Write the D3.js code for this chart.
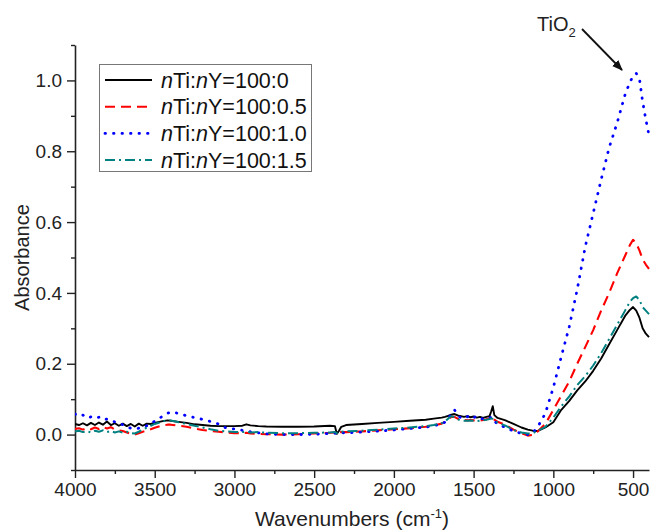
<!DOCTYPE html>
<html>
<head>
<meta charset="utf-8">
<script src="https://cdnjs.cloudflare.com/ajax/libs/d3/7.8.5/d3.min.js"></script>
<style>
  html, body { margin: 0; padding: 0; background: #fff; }
  svg { display: block; font-family: "Liberation Sans", Arial, sans-serif; }
</style>
</head>
<body>
<svg id="chart" width="650" height="530"></svg>
<script>
// ---- data ----
const wavenumbers = [4000,3975,3950,3925,3900,3875,3850,3825,3800,3775,3750,3725,3700,3675,3650,3625,3600,3575,3550,3525,3500,3450,3420,3400,3350,3300,3250,3200,3150,3100,3050,3000,2950,2925,2900,2850,2800,2700,2600,2500,2400,2370,2358,2345,2330,2300,2200,2100,2000,1900,1800,1750,1700,1680,1660,1640,1620,1600,1580,1560,1540,1520,1500,1480,1460,1440,1420,1400,1390,1380,1370,1350,1300,1250,1200,1160,1130,1100,1050,1000,950,900,850,800,750,700,650,600,550,520,500,480,460,440,420,400];

const absY0 = [0.030,0.027,0.032,0.026,0.033,0.027,0.034,0.028,0.037,0.027,0.032,0.025,0.031,0.024,0.030,0.023,0.031,0.025,0.031,0.030,0.033,0.038,0.040,0.039,0.036,0.033,0.029,0.027,0.025,0.024,0.024,0.024,0.025,0.029,0.026,0.024,0.023,0.022,0.022,0.023,0.025,0.024,0.002,0.010,0.022,0.027,0.030,0.033,0.036,0.039,0.042,0.045,0.048,0.050,0.053,0.056,0.058,0.054,0.052,0.050,0.052,0.049,0.051,0.048,0.050,0.047,0.050,0.052,0.065,0.080,0.055,0.047,0.040,0.030,0.020,0.014,0.011,0.010,0.020,0.035,0.070,0.095,0.125,0.150,0.180,0.215,0.255,0.295,0.335,0.352,0.360,0.350,0.330,0.300,0.285,0.275];

const absY05 = [0.016,0.018,0.014,0.019,0.015,0.020,0.016,0.022,0.017,0.021,0.014,0.012,0.010,0.006,0.002,0.000,0.004,0.008,0.011,0.015,0.019,0.026,0.028,0.028,0.025,0.022,0.017,0.013,0.010,0.008,0.006,0.004,0.004,0.005,0.003,0.002,0.001,0.000,0.001,0.003,0.005,0.006,0.003,0.006,0.007,0.007,0.009,0.012,0.015,0.018,0.022,0.026,0.031,0.036,0.043,0.050,0.050,0.045,0.042,0.041,0.040,0.041,0.040,0.039,0.040,0.041,0.043,0.046,0.052,0.048,0.042,0.036,0.028,0.014,0.004,-0.003,-0.001,0.008,0.030,0.070,0.110,0.150,0.200,0.247,0.295,0.350,0.400,0.455,0.505,0.535,0.550,0.540,0.520,0.495,0.480,0.468];

const absY10 = [0.058,0.052,0.055,0.047,0.050,0.046,0.049,0.042,0.044,0.038,0.036,0.031,0.028,0.022,0.018,0.016,0.018,0.020,0.025,0.030,0.038,0.052,0.060,0.064,0.060,0.053,0.048,0.043,0.037,0.030,0.018,0.016,0.012,0.010,0.008,0.005,0.002,0.000,0.000,0.001,0.003,0.004,0.002,0.004,0.005,0.005,0.007,0.010,0.013,0.017,0.021,0.025,0.030,0.035,0.045,0.058,0.070,0.055,0.047,0.052,0.050,0.055,0.048,0.052,0.046,0.044,0.043,0.046,0.050,0.045,0.038,0.030,0.020,0.010,0.003,0.000,0.005,0.020,0.060,0.133,0.220,0.305,0.410,0.530,0.625,0.720,0.810,0.880,0.960,0.995,1.012,1.020,1.005,0.940,0.890,0.845];

const absY15 = [0.009,0.011,0.007,0.010,0.006,0.011,0.008,0.012,0.007,0.010,0.006,0.009,0.005,0.008,0.004,0.003,0.008,0.014,0.020,0.025,0.030,0.037,0.040,0.040,0.035,0.030,0.025,0.020,0.015,0.011,0.009,0.007,0.007,0.008,0.006,0.007,0.005,0.004,0.004,0.005,0.006,0.007,0.004,0.007,0.008,0.009,0.011,0.014,0.017,0.020,0.024,0.027,0.032,0.037,0.045,0.052,0.049,0.043,0.040,0.039,0.039,0.040,0.039,0.038,0.039,0.040,0.042,0.044,0.046,0.044,0.040,0.034,0.025,0.013,0.006,0.003,0.004,0.010,0.022,0.048,0.080,0.108,0.140,0.165,0.195,0.230,0.270,0.310,0.350,0.375,0.385,0.390,0.380,0.360,0.350,0.340];

const seriesLabels = ["100:0", "100:0.5", "100:1.0", "100:1.5"];
const seriesValues = [absY0, absY05, absY10, absY15];
const seriesColors = ["#000000", "#ff0000", "#0000ff", "#008080"];
const seriesDash = [null, "10,6", "0.5,8", "10,4,2,4"];
const seriesWidth = [1.9, 2.1, 2.8, 2];

const xTicks = [4000, 3500, 3000, 2500, 2000, 1500, 1000, 500];
const yTicks = [0.0, 0.2, 0.4, 0.6, 0.8, 1.0];

// ---- layout ----
const svg = d3.select("#chart");
const x = d3.scaleLinear().domain([4000, 400]).range([75, 649]);
const y = d3.scaleLinear().domain([-0.1, 1.1]).range([470, 45]);

// axes
const xMinor = d3.range(3750, 400, -250).filter(v => v % 500 !== 0);
const yMinor = [-0.1, 0.1, 0.3, 0.5, 0.7, 0.9, 1.1];

const axisColor = "#222";
const gx = svg.append("g").attr("transform", `translate(0,${y(-0.1)})`);
gx.call(d3.axisBottom(x).tickValues(xMinor).tickSize(4).tickFormat(""));
gx.call(g => g.select(".domain").remove());
const gx2 = svg.append("g").attr("transform", `translate(0,${y(-0.1)})`);
gx2.call(d3.axisBottom(x).tickValues(xTicks).tickSize(8).tickSizeOuter(0).tickPadding(5).tickFormat(d3.format("d")));

const gy = svg.append("g").attr("transform", `translate(${x(4000)},0)`);
gy.call(d3.axisLeft(y).tickValues(yMinor).tickSize(4).tickFormat(""));
gy.call(g => g.select(".domain").remove());
const gy2 = svg.append("g").attr("transform", `translate(${x(4000)},0)`);
gy2.call(d3.axisLeft(y).tickValues(yTicks).tickSize(8).tickSizeOuter(0).tickPadding(5).tickFormat(d3.format(".1f")));

svg.selectAll(".domain").attr("stroke", axisColor).attr("stroke-width", 1.6);
svg.selectAll(".tick line").attr("stroke", axisColor).attr("stroke-width", 1.4);
svg.selectAll(".tick text").attr("font-size", 19).attr("fill", "#222")
   .attr("font-family", "Liberation Sans, Arial, sans-serif");

// axis titles
svg.append("text").attr("x", 352).attr("y", 526).attr("text-anchor", "middle")
  .attr("font-size", 21).attr("fill", "#222")
  .call(t => {
    t.append("tspan").text("Wavenumbers (cm");
    t.append("tspan").attr("dy", -8).attr("font-size", 13).text("-1");
    t.append("tspan").attr("dy", 8).text(")");
  });
svg.append("text").attr("transform", `translate(29,${(45 + 470) / 2}) rotate(-90)`)
  .attr("text-anchor", "middle").attr("font-size", 20).attr("fill", "#222")
  .text("Absorbance");

// lines
const line = d3.line()
  .x((d, i) => x(wavenumbers[i]))
  .y(d => y(d));

svg.append("clipPath").attr("id", "plotclip")
  .append("rect").attr("x", 75).attr("y", 40).attr("width", 575).attr("height", 431);

const plot = svg.append("g").attr("clip-path", "url(#plotclip)");
seriesValues.forEach((vals, k) => {
  plot.append("path")
    .datum(vals)
    .attr("d", line)
    .attr("fill", "none")
    .attr("stroke", seriesColors[k])
    .attr("stroke-width", seriesWidth[k])
    .attr("stroke-dasharray", seriesDash[k])
    .attr("stroke-linecap", k === 2 ? "round" : "butt")
    .attr("stroke-linejoin", "round");
});

// legend
const lg = svg.append("g");
lg.append("rect").attr("x", 99.5).attr("y", 64.5).attr("width", 212).attr("height", 107)
  .attr("fill", "#fff").attr("stroke", "#777").attr("stroke-width", 1);
seriesLabels.forEach((lab, k) => {
  const yy = 80 + k * 26.7;
  lg.append("line").attr("x1", 105).attr("x2", 152).attr("y1", yy).attr("y2", yy)
    .attr("stroke", seriesColors[k]).attr("stroke-width", seriesWidth[k])
    .attr("stroke-dasharray", seriesDash[k])
    .attr("stroke-linecap", k === 2 ? "round" : "butt");
  const t = lg.append("text").attr("x", 161).attr("y", yy + 7.5).attr("font-size", 21.5).attr("fill", "#111");
  t.append("tspan").attr("font-style", "italic").text("n");
  t.append("tspan").text("Ti:");
  t.append("tspan").attr("font-style", "italic").text("n");
  t.append("tspan").text("Y=" + lab);
});

// annotation
const defs = svg.append("defs");
defs.append("marker").attr("id", "arrowhead").attr("viewBox", "0 0 10 10")
  .attr("refX", 9).attr("refY", 5).attr("markerWidth", 6).attr("markerHeight", 6)
  .attr("orient", "auto").attr("markerUnits", "strokeWidth")
  .append("path").attr("d", "M0,1 L10,5 L0,9 Z").attr("fill", "#111");
svg.append("line").attr("x1", 582).attr("y1", 29).attr("x2", 622).attr("y2", 70)
  .attr("stroke", "#111").attr("stroke-width", 1.8).attr("marker-end", "url(#arrowhead)");
const ta = svg.append("text").attr("x", 537).attr("y", 31).attr("font-size", 20).attr("fill", "#222");
ta.append("tspan").text("TiO");
ta.append("tspan").attr("dy", 6).attr("font-size", 13).text("2");
</script>
</body>
</html>
